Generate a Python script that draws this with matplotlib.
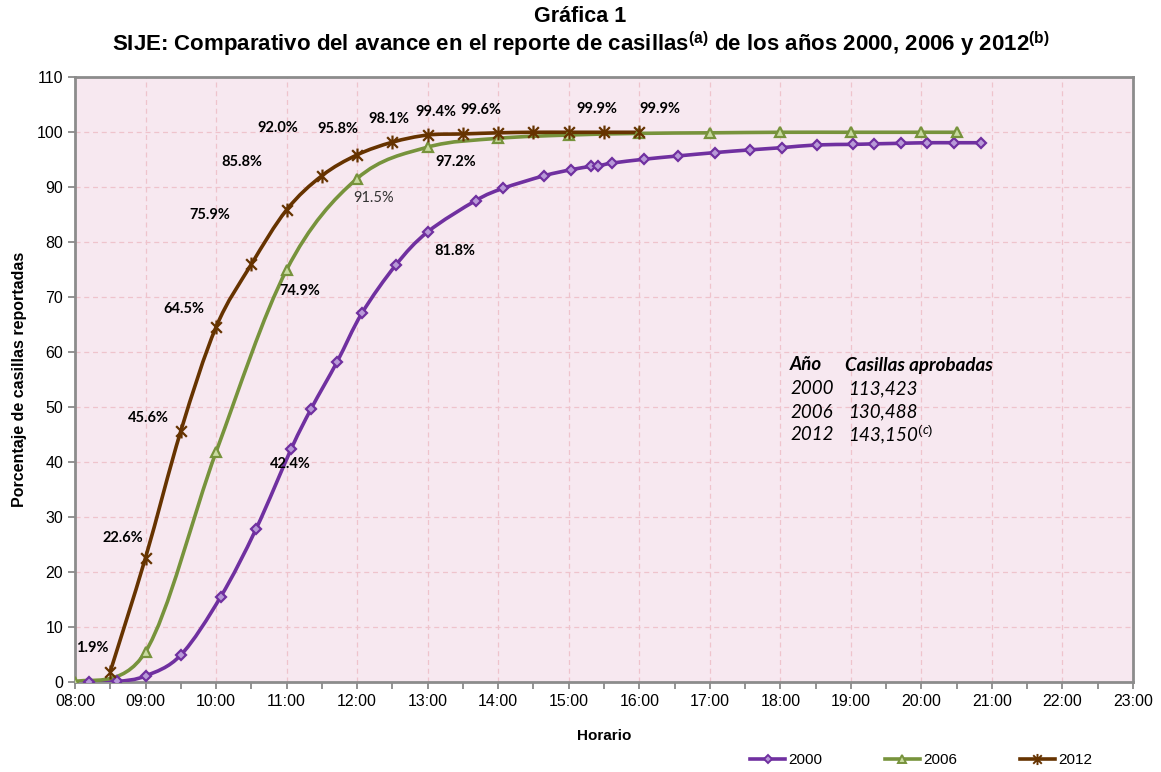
import matplotlib
matplotlib.use("Agg")
import matplotlib.pyplot as plt
import numpy as np
from matplotlib.path import Path
from matplotlib.patches import PathPatch
from matplotlib.lines import Line2D
from matplotlib.ticker import MultipleLocator, FuncFormatter

plt.rcParams['font.family'] = ['Liberation Sans', 'DejaVu Sans']
plt.rcParams['mathtext.fontset'] = 'custom'
plt.rcParams['mathtext.rm'] = 'Liberation Sans'
plt.rcParams['mathtext.bf'] = 'Liberation Sans:bold'
plt.rcParams['mathtext.it'] = 'Lato:italic'

# ---------------- data ----------------
# times in minutes after 00:00
t2000 = [492, 516, 540, 570, 604, 634, 664, 681, 703, 724, 753, 780, 821, 844, 879,
         902, 919, 925, 937, 964, 993, 1024, 1054, 1081, 1111, 1142, 1160, 1183,
         1205, 1228, 1251]
v2000 = [0.0, 0.1, 1.1, 4.9, 15.5, 27.8, 42.4, 49.7, 58.2, 67.0, 75.8, 81.8, 87.5,
         89.7, 92.0, 93.1, 93.7, 93.8, 94.3, 95.0, 95.6, 96.2, 96.7, 97.1, 97.6,
         97.7, 97.8, 97.9, 98.0, 98.0, 98.0]

t2006 = [480, 540, 600, 660, 720, 780, 840, 900, 960, 1020, 1080, 1140, 1200, 1230]
v2006 = [0.0, 5.5, 41.8, 74.9, 91.5, 97.2, 98.8, 99.4, 99.7, 99.8, 99.9, 99.9, 99.9, 99.9]

t2012 = [510, 540, 570, 600, 630, 660, 690, 720, 750, 780, 810, 840, 870, 900, 930, 960]
v2012 = [1.9, 22.6, 45.6, 64.5, 75.9, 85.8, 92.0, 95.8, 98.1, 99.4, 99.6, 99.8,
         99.9, 99.9, 99.9, 99.9]

series_names = ['2000', '2006', '2012']

# labels: (series, index, text, dx_px, dy_px, bold)
labels = [
    ('2012', 0, '1.9%', -18, 24, True),
    ('2012', 1, '22.6%', -23, 20, True),
    ('2012', 2, '45.6%', -32, 13, True),
    ('2012', 3, '64.5%', -32, 18, True),
    ('2012', 4, '75.9%', -42, 49, True),
    ('2012', 5, '85.8%', -45, 48, True),
    ('2012', 6, '92.0%', -44, 48, True),
    ('2012', 7, '95.8%', -19, 26, True),
    ('2012', 8, '98.1%', -4, 23, True),
    ('2012', 9, '99.4%', 8, 23, True),
    ('2012', 10, '99.6%', 18, 24, True),
    ('2012', 14, '99.9%', -7, 23, True),
    ('2012', 15, '99.9%', 21, 23, True),
    ('2006', 3, '74.9%', 13, -21, True),
    ('2006', 4, '91.5%', 16, -19, False),
    ('2006', 5, '97.2%', 28, -15, True),
    ('2000', 6, '42.4%', -1, -15, True),
    ('2000', 11, '81.8%', 27, -19, True),
]

table_rows = [('Año', 'Casillas aprobadas'),
              ('2000', '113,423'),
              ('2006', '130,488'),
              ('2012', '143,150')]

# ---------------- style ----------------
colors = {'2000': '#7030A0', '2006': '#77933C', '2012': '#663300'}
faces = {'2000': '#B89AD8', '2006': '#C9DBA0', '2012': '#663300'}

star = Path([(-1, -1), (1, 1), (-1, 1), (1, -1), (0, -1.3), (0, 1.3)],
            [Path.MOVETO, Path.LINETO, Path.MOVETO, Path.LINETO, Path.MOVETO, Path.LINETO])
markers = {'2000': 'D', '2006': '^', '2012': star}
msizes = {'2000': 5.5, '2006': 7, '2012': 10}

data = {'2000': (np.array(t2000) / 60.0, np.array(v2000)),
        '2006': (np.array(t2006) / 60.0, np.array(v2006)),
        '2012': (np.array(t2012) / 60.0, np.array(v2012))}

fig = plt.figure(figsize=(11.61, 7.72), dpi=100)
ax = fig.add_axes([75 / 1161, 1 - 682 / 772, (1133 - 75) / 1161, (682 - 76.7) / 772])
ax.set_facecolor('#F7E8F0')


def smooth_path(x, y):
    pts = np.column_stack([x, y])
    n = len(pts)
    verts = [pts[0]]
    codes = [Path.MOVETO]
    for i in range(n - 1):
        p0 = pts[i - 1] if i > 0 else pts[i]
        p1 = pts[i]
        p2 = pts[i + 1]
        p3 = pts[i + 2] if i + 2 < n else pts[i + 1]
        c1 = p1 + (p2 - p0) / 6.0
        c2 = p2 - (p3 - p1) / 6.0
        verts += [c1, c2, p2]
        codes += [Path.CURVE4] * 3
    return Path(verts, codes)


for name in series_names:
    x, y = data[name]
    patch = PathPatch(smooth_path(x, y), facecolor='none', edgecolor=colors[name],
                      lw=2.6, zorder=3, capstyle='round', joinstyle='round')
    ax.add_patch(patch)
    ax.plot(x, y, linestyle='none', marker=markers[name], ms=msizes[name],
            mfc=faces[name], mec=colors[name], mew=1.6, zorder=4)

for name, idx, txt, dx, dy, bold in labels:
    x, y = data[name]
    ax.annotate(txt, (x[idx], y[idx]), xytext=(dx * 0.72, dy * 0.72),
                textcoords='offset points', ha='center', va='center',
                fontsize=10.5, fontweight='bold' if bold else 'normal',
                family=['Lato', 'DejaVu Sans'], color='#000000' if bold else '#333333',
                zorder=5)

# table text
tx0, tx1 = (790 - 75) / 1058, (845 - 75) / 1058
tys = [(682 - 365) / 605.3, (682 - 389) / 605.3, (682 - 412) / 605.3, (682 - 435) / 605.3]
for i, (a, b) in enumerate(table_rows):
    wt = 'bold' if i == 0 else 'normal'
    ax.text(tx0, tys[i], a, transform=ax.transAxes, ha='left', va='center',
            fontsize=13.5, style='italic', fontweight=wt, family=['Lato', 'DejaVu Sans'])
    s = b if i < 3 else b + r'$^{(c)}$'
    ax.text(tx1 + (0 if i == 0 else 0.003), tys[i], s, transform=ax.transAxes, ha='left',
            va='center', fontsize=13.5, style='italic', fontweight=wt,
            family=['Lato', 'DejaVu Sans'])

ax.set_xlim(8, 23)
ax.set_ylim(0, 110)
ax.xaxis.set_major_locator(MultipleLocator(1))
ax.xaxis.set_minor_locator(MultipleLocator(0.5))
ax.xaxis.set_major_formatter(FuncFormatter(lambda v, p: f"{int(round(v)):02d}:00"))
ax.yaxis.set_major_locator(MultipleLocator(10))
ax.tick_params(axis='both', which='both', direction='out', color='#808080', width=1.2,
               labelsize=11.5)
ax.tick_params(axis='both', which='major', length=5)
ax.tick_params(axis='x', which='minor', length=5)
ax.tick_params(axis='x', pad=4)
ax.grid(True, which='major', color='#EFC3CC', linestyle=(0, (4, 3)), lw=0.9)
ax.set_axisbelow(True)
for sp in ax.spines.values():
    sp.set_color('#8C8C8C')
    sp.set_linewidth(2)

ax.set_xlabel('Horario', fontsize=11, fontweight='bold', labelpad=14)
ax.set_ylabel('Porcentaje de casillas reportadas', fontsize=11.5, fontweight='bold',
              labelpad=7)

fig.text(0.5, 1 - 16 / 772, 'Gráfica 1', ha='center', va='center', fontsize=15.5,
         fontweight='bold')
fig.text(0.5, 1 - 44 / 772,
         r'SIJE: Comparativo del avance en el reporte de casillas$^{\mathbf{(a)}}$ de los años 2000, 2006 y 2012$^{\mathbf{(b)}}$',
         ha='center', va='center', fontsize=16, fontweight='bold')

handles = [Line2D([], [], color=colors[n], lw=2.6, marker=markers[n], ms=msizes[n] * 0.8,
                  mfc=faces[n], mec=colors[n], mew=1.4) for n in series_names]
fig.legend(handles, series_names, loc='center', bbox_to_anchor=(921 / 1161, 1 - 760 / 772),
           ncol=3, frameon=False, fontsize=11, handlelength=2.3, columnspacing=4.1,
           handletextpad=0.2)

fig.savefig('out.png', dpi=100)
